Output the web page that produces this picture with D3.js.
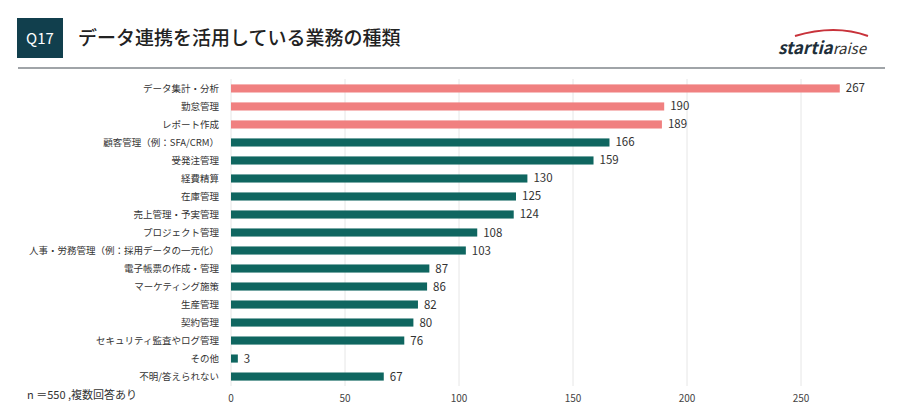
<!DOCTYPE html>
<html><head><meta charset="utf-8">
<script src="https://cdn.jsdelivr.net/npm/d3@7"></script>
<style>body{margin:0;background:#fff;font-family:"Noto Sans CJK JP","Noto Sans",sans-serif}</style>
</head><body>
<svg width="900" height="405"></svg>
<script>
const categories = ["データ集計・分析","勤怠管理","レポート作成","顧客管理（例：SFA/CRM）","受発注管理","経費精算","在庫管理","売上管理・予実管理","プロジェクト管理","人事・労務管理（例：採用データの一元化）","電子帳票の作成・管理","マーケティング施策","生産管理","契約管理","セキュリティ監査やログ管理","その他","不明/答えられない"];
const values = [267,190,189,166,159,130,125,124,108,103,87,86,82,80,76,3,67];
const highlighted = 3;
const ticks = [0,50,100,150,200,250];

const svg = d3.select("svg");
const x = d3.scaleLinear().domain([0,250]).range([231,801]);
const y = d3.scaleBand().domain(categories).range([79,386]).paddingInner(0.55).paddingOuter(0.3);

// header
svg.append("rect").attr("x",17).attr("y",18).attr("width",46).attr("height",40).attr("fill","#113f4d");
svg.append("text").attr("x",40).attr("y",44).attr("text-anchor","middle").attr("fill","#fff")
  .attr("font-size",15).text("Q17");
svg.append("text").attr("x",78).attr("y",45).attr("fill","#222").attr("font-size",19).attr("font-weight",500).text("データ連携を活用している業務の種類");
svg.append("line").attr("x1",18).attr("x2",885).attr("y1",68).attr("y2",68).attr("stroke","#a0a4a8").attr("stroke-width",2);
// logo
svg.append("path").attr("d","M795,36 Q835,24 868,36").attr("fill","none").attr("stroke","#c8323a").attr("stroke-width",2);
const logo = svg.append("text").attr("x",778).attr("y",54).attr("font-size",17).attr("font-style","italic");
logo.append("tspan").attr("fill","#1e2f3a").attr("font-weight","bold").text("startia");
logo.append("tspan").attr("fill","#333").attr("font-size",15).text("raise");

// grid
svg.append("g").selectAll("line").data(ticks).join("line")
  .attr("x1",d=>x(d)).attr("x2",d=>x(d)).attr("y1",79).attr("y2",386)
  .attr("stroke","#e6e6e6");

// axis labels
svg.append("g").selectAll("text").data(ticks).join("text")
  .attr("x",d=>x(d)).attr("y",402).attr("text-anchor","middle").attr("font-size",10).attr("fill","#444").text(d=>d);

// bars
svg.append("g").selectAll("rect").data(values).join("rect")
  .attr("x",x(0)).attr("y",(d,i)=>y(categories[i]))
  .attr("width",d=>x(d)-x(0)).attr("height",y.bandwidth())
  .attr("fill",(d,i)=>i<highlighted?"#f08080":"#0f6660");

svg.append("g").selectAll("text").data(values).join("text")
  .attr("x",d=>x(d)+6).attr("y",(d,i)=>y(categories[i])+y.bandwidth()/2+4)
  .attr("font-size",11.5).attr("fill","#333").text(d=>d);

svg.append("g").selectAll("text").data(categories).join("text")
  .attr("x",219).attr("y",d=>y(d)+y.bandwidth()/2+3.5).attr("text-anchor","end")
  .attr("font-size",9.5).attr("fill","#333").text(d=>d);

svg.append("text").attr("x",27).attr("y",399).attr("font-size",11).attr("fill","#333").text("n ＝550 ,複数回答あり");
</script>
</body></html>
